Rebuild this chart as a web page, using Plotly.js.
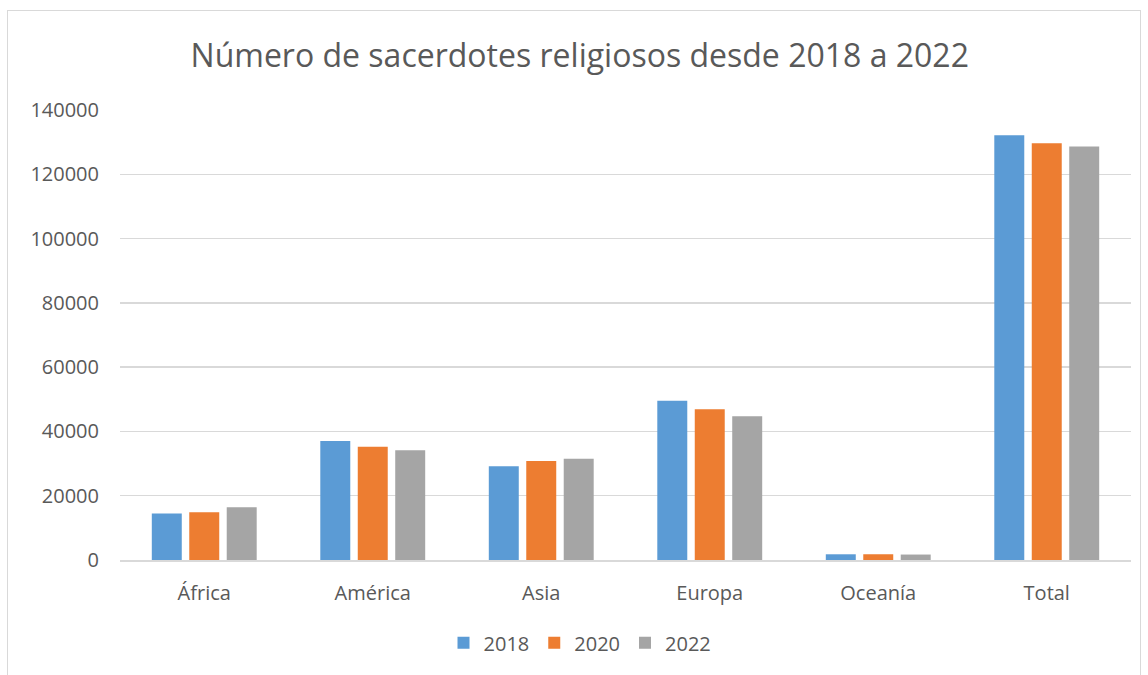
<!DOCTYPE html>
<html>
<head>
<meta charset="utf-8">
<script src="https://cdn.plot.ly/plotly-3.0.1.min.js"></script>
<style>
html,body{margin:0;padding:0;background:#fff;}
#frame{position:absolute;left:7px;top:10px;width:1134px;height:700px;border:1px solid #d9d9d9;box-sizing:border-box;}
#chart{position:absolute;left:0;top:0;width:1148px;height:675px;}
</style>
</head>
<body>
<div id="frame"></div>
<div id="chart"></div>
<script>
const categories = ["África", "América", "Asia", "Europa", "Oceanía", "Total"];
const seriesNames = ["2018", "2020", "2022"];
const values2018 = [14430, 37010, 29140, 49580, 1780, 132130];
const values2020 = [14840, 35270, 30790, 46870, 1790, 129640];
const values2022 = [16390, 34120, 31530, 44700, 1700, 128620];
const yTicks = [0, 20000, 40000, 60000, 80000, 100000, 120000, 140000];
const colors = ["#5B9BD5", "#ED7D31", "#A5A5A5"];

const allValues = [values2018, values2020, values2022];
const font = "Open Sans, Liberation Sans, sans-serif";

const traces = allValues.map((v, i) => ({
  type: "bar",
  name: seriesNames[i],
  x: categories,
  y: v,
  marker: {color: colors[i]},
  hoverinfo: "x+y+name"
}));

const layout = {
  width: 1148,
  height: 675,
  margin: {l: 120, r: 17, t: 110, b: 115},
  paper_bgcolor: "rgba(0,0,0,0)",
  plot_bgcolor: "rgba(0,0,0,0)",
  barmode: "group",
  bargap: 0.333,
  bargroupgap: 0.2,
  title: {
    text: "Número de sacerdotes religiosos desde 2018 a 2022",
    font: {family: font, size: 32, color: "#595959"},
    x: 0.505, xanchor: "center",
    y: 0.918, yanchor: "middle"
  },
  xaxis: {
    type: "category",
    showgrid: false,
    showline: true,
    linecolor: "#d9d9d9",
    linewidth: 1.5,
    ticks: "",
    ticklabelstandoff: 14,
    tickfont: {family: font, size: 20, color: "#595959"}
  },
  yaxis: {
    range: [0, 140000],
    tickvals: yTicks,
    ticktext: yTicks.map(String),
    showgrid: true,
    gridcolor: "#d9d9d9",
    gridwidth: 1.5,
    zeroline: false,
    showline: false,
    ticks: "",
    ticklabelstandoff: 20,
    tickfont: {family: font, size: 20, color: "#595959"}
  },
  legend: {
    orientation: "h",
    x: 0.455, xanchor: "center",
    y: -0.184, yanchor: "middle",
    font: {family: font, size: 20, color: "#595959"},
    itemwidth: 30,
    traceorder: "normal"
  },
  showlegend: true
};

Plotly.newPlot("chart", traces, layout, {displayModeBar: false, staticPlot: true});
</script>
</body>
</html>
